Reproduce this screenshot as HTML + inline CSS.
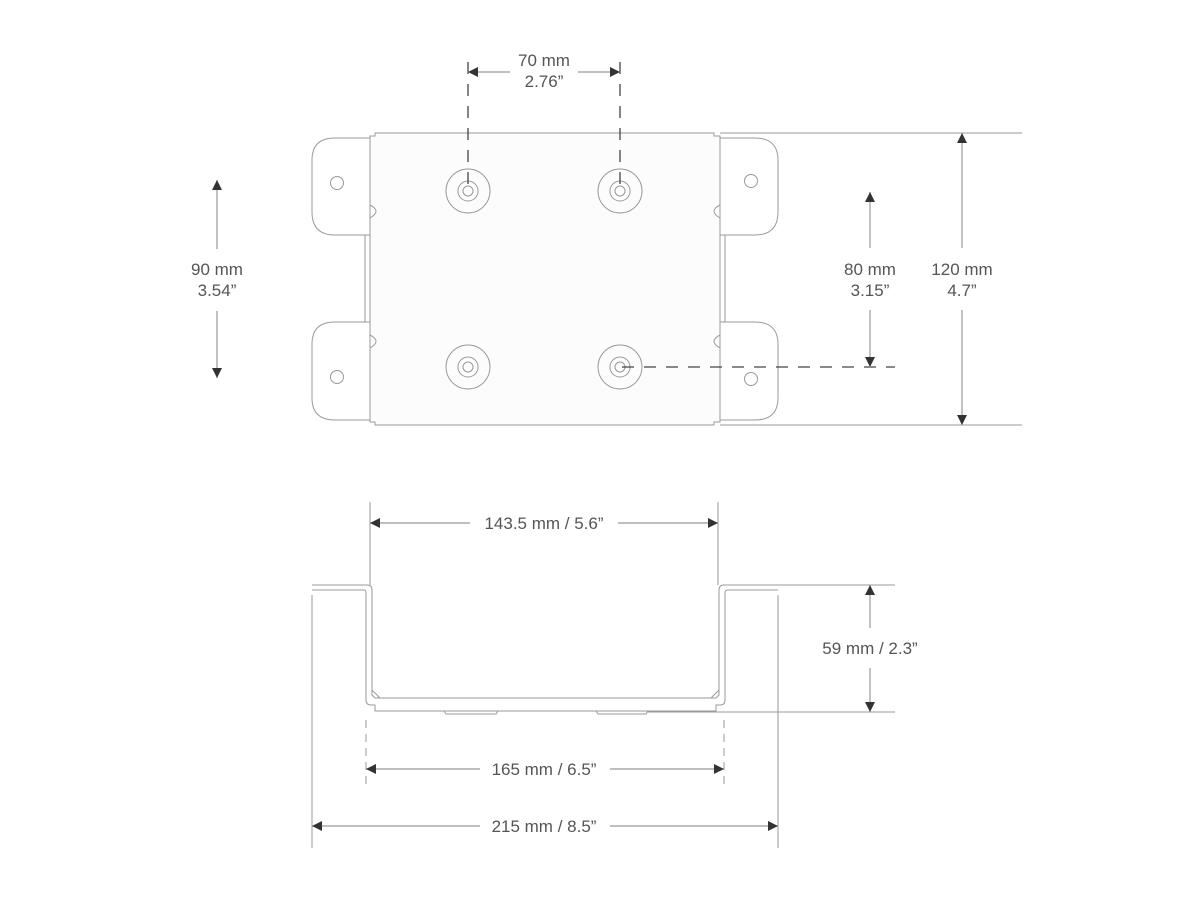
<!DOCTYPE html>
<html><head><meta charset="utf-8"><style>
html,body{margin:0;padding:0;background:#fff}
svg{display:block}
text{font-family:"Liberation Sans",sans-serif;font-size:17px;fill:#555;text-anchor:middle}
</style></head><body>
<svg width="1200" height="900" viewBox="0 0 1200 900">
<defs>
<marker id="a" viewBox="0 0 10 10" refX="10" refY="5" markerWidth="14" markerHeight="10" markerUnits="userSpaceOnUse" orient="auto-start-reverse">
<path d="M0,0 L10,5 L0,10 z" fill="#333"/></marker>
</defs>
<g fill="none" stroke="#9a9a9a" stroke-width="1">
<path d="M375,133 L714,133 L714,136 L720,136 L720,422 L714,422 L714,425 L375,425 L375,422 L370,422 L370,136 L375,136 Z" fill="#fcfcfc"/>
<path d="M370,138 L335,138 Q312,138 312,160 L312,212 Q312,235 335,235 L370,235"/>
<path d="M370,322 L335,322 Q312,322 312,344 L312,398 Q312,420 335,420 L370,420"/>
<line x1="365" y1="235" x2="365" y2="322"/>
<path d="M720,138 L755,138 Q778,138 778,160 L778,212 Q778,235 755,235 L720,235"/>
<path d="M720,322 L755,322 Q778,322 778,344 L778,398 Q778,420 755,420 L720,420"/>
<line x1="725" y1="235" x2="725" y2="322"/>
<path d="M370,205 Q382,211 370,218"/><path d="M370,335 Q382,341 370,348"/>
<path d="M720,205 Q708,211 720,218"/><path d="M720,335 Q708,341 720,348"/>
<circle cx="337" cy="183" r="6.5"/><circle cx="751" cy="181" r="6.5"/>
<circle cx="337" cy="377" r="6.5"/><circle cx="751" cy="379" r="6.5"/>
<circle cx="468" cy="191" r="22"/><circle cx="468" cy="191" r="10"/><circle cx="468" cy="191" r="5"/>
<circle cx="620" cy="191" r="22"/><circle cx="620" cy="191" r="10"/><circle cx="620" cy="191" r="5"/>
<circle cx="468" cy="367" r="22"/><circle cx="468" cy="367" r="10"/><circle cx="468" cy="367" r="5"/>
<circle cx="620" cy="367" r="22"/><circle cx="620" cy="367" r="10"/><circle cx="620" cy="367" r="5"/>
<line x1="720" y1="133" x2="1022" y2="133"/><line x1="720" y1="425" x2="1022" y2="425"/>
<path d="M312,585 L367,585 Q372,585 372,590 L372,695 L375,698 L716,698 L719,695 L719,590 Q719,585 724,585 L778,585"/>
<path d="M312,590 L364,590 Q366,590 366,593 L366,700 Q366,705 371,705 L375,705 L375,711 L716,711 L716,705 L720,705 Q725,705 725,700 L725,593 Q725,590 728,590 L778,590"/>
<path d="M444,711 L446,714 L496,714 L498,711"/><path d="M596,711 L598,714 L646,714 L648,711"/>
<path d="M372,690 L380,698 M719,690 L711,698"/>
<line x1="370" y1="502" x2="370" y2="585"/><line x1="718" y1="502" x2="718" y2="585"/>
<line x1="778" y1="585" x2="895" y2="585"/><line x1="648" y1="712" x2="895" y2="712"/>
<line x1="312" y1="595" x2="312" y2="848"/><line x1="778" y1="595" x2="778" y2="848"/>
<line x1="366" y1="720" x2="366" y2="785" stroke-dasharray="8,6"/>
<line x1="724" y1="720" x2="724" y2="785" stroke-dasharray="8,6"/>
</g>
<g stroke="#444" stroke-width="1.3" fill="none" stroke-dasharray="12,10">
<line x1="468" y1="62" x2="468" y2="190"/><line x1="620" y1="62" x2="620" y2="190"/>
<line x1="622" y1="367" x2="895" y2="367"/>
</g>
<g stroke="#999" stroke-width="1.2" fill="none">
<line x1="468" y1="72" x2="510" y2="72" marker-start="url(#a)"/>
<line x1="578" y1="72" x2="620" y2="72" marker-end="url(#a)"/>
<line x1="217" y1="180" x2="217" y2="249" marker-start="url(#a)"/>
<line x1="217" y1="311" x2="217" y2="378" marker-end="url(#a)"/>
<line x1="870" y1="192" x2="870" y2="248" marker-start="url(#a)"/>
<line x1="870" y1="310" x2="870" y2="367" marker-end="url(#a)"/>
<line x1="962" y1="133" x2="962" y2="248" marker-start="url(#a)"/>
<line x1="962" y1="310" x2="962" y2="425" marker-end="url(#a)"/>
<line x1="370" y1="523" x2="470" y2="523" marker-start="url(#a)"/>
<line x1="618" y1="523" x2="718" y2="523" marker-end="url(#a)"/>
<line x1="870" y1="585" x2="870" y2="628" marker-start="url(#a)"/>
<line x1="870" y1="668" x2="870" y2="712" marker-end="url(#a)"/>
<line x1="366" y1="769" x2="480" y2="769" marker-start="url(#a)"/>
<line x1="610" y1="769" x2="724" y2="769" marker-end="url(#a)"/>
<line x1="312" y1="826" x2="480" y2="826" marker-start="url(#a)"/>
<line x1="610" y1="826" x2="778" y2="826" marker-end="url(#a)"/>
</g>
<text x="544" y="66">70 mm</text><text x="544" y="87">2.76”</text>
<text x="217" y="275">90 mm</text><text x="217" y="296">3.54”</text>
<text x="870" y="275">80 mm</text><text x="870" y="296">3.15”</text>
<text x="962" y="275">120 mm</text><text x="962" y="296">4.7”</text>
<text x="544" y="529">143.5 mm / 5.6”</text>
<text x="870" y="654">59 mm / 2.3”</text>
<text x="544" y="775">165 mm / 6.5”</text>
<text x="544" y="832">215 mm / 8.5”</text>
</svg>
</body></html>
